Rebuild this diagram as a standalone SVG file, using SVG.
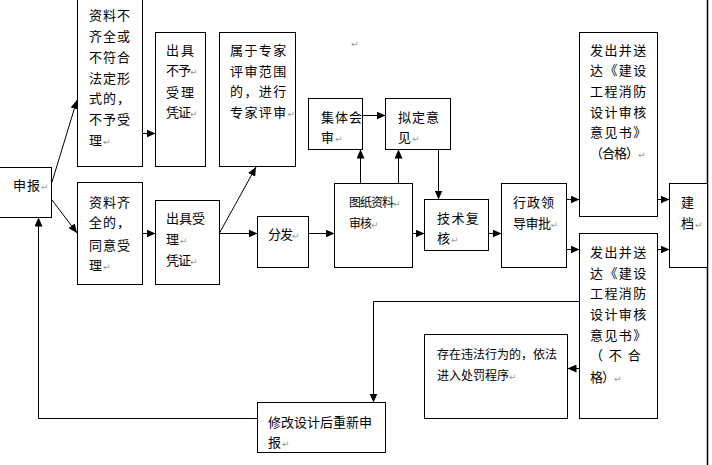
<svg xmlns="http://www.w3.org/2000/svg" width="712" height="465" viewBox="0 0 712 465">
<style>
.b{fill:#fff;stroke:#000;stroke-width:1}
.t{font-family:"Noto Sans CJK SC","Noto Sans CJK JP",sans-serif;font-size:13px;fill:#000;letter-spacing:1px}
.s{font-size:12px;letter-spacing:0}
.w{letter-spacing:1.4px}
.pm{font-family:"DejaVu Sans",sans-serif;font-size:9px;fill:#999;letter-spacing:0}
.c{fill:none;stroke:#000;stroke-width:1;marker-end:url(#a)}
.l{fill:none;stroke:#000;stroke-width:1}
</style>
<defs>
<marker id="a" markerUnits="userSpaceOnUse" markerWidth="9" markerHeight="8" refX="9" refY="4" orient="auto">
<path d="M0,0 L9,4 L0,8 z" fill="#000"/>
</marker>
</defs>
<rect x="0" y="0" width="712" height="465" fill="#fff"/>

<g id="connectors">
<line class="c" x1="52" y1="182" x2="77" y2="100"/>
<line class="c" x1="52" y1="200" x2="77" y2="233"/>
<line class="c" x1="142.5" y1="133.5" x2="155.5" y2="133.5"/>
<line class="c" x1="142.5" y1="233.5" x2="155.5" y2="233.5"/>
<line class="c" x1="219.5" y1="233" x2="256" y2="167"/>
<line class="c" x1="219.5" y1="233.5" x2="257.5" y2="233.5"/>
<line class="c" x1="308.5" y1="233.5" x2="334.5" y2="233.5"/>
<line class="c" x1="360.5" y1="183.5" x2="360.5" y2="149.5"/>
<line class="c" x1="398.5" y1="183.5" x2="398.5" y2="149.5"/>
<line class="c" x1="362.5" y1="115.5" x2="385.5" y2="115.5"/>
<line class="c" x1="438.5" y1="149.5" x2="438.5" y2="199.5"/>
<line class="c" x1="412.5" y1="233.5" x2="424.5" y2="233.5"/>
<line class="c" x1="488.5" y1="233.5" x2="501.5" y2="233.5"/>
<line class="c" x1="566.5" y1="199.5" x2="579.5" y2="199.5"/>
<line class="c" x1="566.5" y1="249.5" x2="579.5" y2="249.5"/>
<line class="c" x1="657.5" y1="199.5" x2="669.5" y2="199.5"/>
<line class="c" x1="657.5" y1="249.5" x2="669.5" y2="249.5"/>
<polyline class="c" points="579.5,301.5 373.5,301.5 373.5,402.5"/>
<line class="c" x1="579.5" y1="368.5" x2="567.5" y2="368.5"/>
<polyline class="c" points="257.5,418.5 38.5,418.5 38.5,217.5"/>
<line class="l" x1="707.5" y1="0" x2="707.5" y2="465" style="stroke-width:1.5"/>
</g>

<g id="n_shenbao">
<rect class="b" x="-1" y="167.5" width="52.5" height="50"/>
<text class="t" x="13" y="190">申报<tspan class="pm">↵</tspan></text>
</g>

<g id="n_buqi">
<rect class="b" x="77.5" y="-1" width="65" height="167.5"/>
<text class="t" x="89" y="20">资料不</text>
<text class="t" x="89" y="41">齐全或</text>
<text class="t" x="89" y="62">不符合</text>
<text class="t" x="89" y="83">法定形</text>
<text class="t" x="89" y="103">式的，</text>
<text class="t" x="89" y="124">不予受</text>
<text class="t" x="89" y="145">理<tspan class="pm">↵</tspan></text>
</g>

<g id="n_buyu">
<rect class="b" x="155.5" y="32.5" width="50" height="134"/>
<text class="t" x="166" y="55" style="letter-spacing:2px">出具</text>
<text class="t" x="166" y="75" style="letter-spacing:-1px">不予<tspan class="pm">↵</tspan></text>
<text class="t" x="166" y="97" style="letter-spacing:2px">受理</text>
<text class="t" x="166" y="117" style="letter-spacing:-1px">凭证<tspan class="pm">↵</tspan></text>
</g>

<g id="n_zhuanjia">
<rect class="b" x="219.5" y="32.5" width="76" height="134"/>
<text class="t w" x="230" y="55">属于专家</text>
<text class="t w" x="230" y="76">评审范围</text>
<text class="t w" x="230" y="96">的，进行</text>
<text class="t w" x="230" y="117">专家评审<tspan class="pm">↵</tspan></text>
</g>

<g id="n_qiquan">
<rect class="b" x="77.5" y="182.5" width="65" height="102"/>
<text class="t" x="89" y="207">资料齐</text>
<text class="t" x="89" y="227">全的，</text>
<text class="t" x="89" y="250">同意受</text>
<text class="t" x="89" y="270">理<tspan class="pm">↵</tspan></text>
</g>

<g id="n_shouli">
<rect class="b" x="155.5" y="200.5" width="64" height="84"/>
<text class="t" x="166" y="223" style="letter-spacing:0">出具受</text>
<text class="t" x="166" y="244">理<tspan class="pm">↵</tspan></text>
<text class="t" x="166" y="265" style="letter-spacing:-1px">凭证<tspan class="pm">↵</tspan></text>
</g>

<g id="n_fenfa">
<rect class="b" x="257.5" y="216.5" width="51" height="51"/>
<text class="t" x="268" y="239" style="letter-spacing:-1px">分发<tspan class="pm">↵</tspan></text>
</g>

<g id="n_jiti">
<rect class="b" x="308.5" y="98.5" width="54" height="51"/>
<text class="t" x="321" y="122">集体会</text>
<text class="t" x="321" y="142">审<tspan class="pm">↵</tspan></text>
</g>

<g id="n_niding">
<rect class="b" x="385.5" y="98.5" width="65" height="51"/>
<text class="t" x="398" y="122">拟定意</text>
<text class="t" x="398" y="142">见<tspan class="pm">↵</tspan></text>
</g>

<g id="n_tuzhi">
<rect class="b" x="334.5" y="183.5" width="78" height="84"/>
<text class="t s" x="349" y="207" style="letter-spacing:-1px">图纸资料<tspan class="pm">↵</tspan></text>
<text class="t s" x="349" y="228" style="letter-spacing:-1px">审核<tspan class="pm">↵</tspan></text>
</g>

<g id="n_jishu">
<rect class="b" x="424.5" y="199.5" width="64" height="51"/>
<text class="t w" x="437" y="223">技术复</text>
<text class="t" x="437" y="243">核<tspan class="pm">↵</tspan></text>
</g>

<g id="n_xingzheng">
<rect class="b" x="501.5" y="183.5" width="65" height="84"/>
<text class="t" x="513" y="207">行政领</text>
<text class="t" x="513" y="228" style="letter-spacing:-0.5px">导审批<tspan class="pm">↵</tspan></text>
</g>

<g id="n_hege">
<rect class="b" x="579.5" y="32.5" width="78" height="184"/>
<text class="t w" x="590" y="55">发出并送</text>
<text class="t w" x="590" y="75">达《建设</text>
<text class="t w" x="590" y="96">工程消防</text>
<text class="t w" x="590" y="117">设计审核</text>
<text class="t w" x="590" y="137">意见书》</text>
<text class="t" x="590" y="158" style="letter-spacing:-1px">（合格）<tspan class="pm">↵</tspan></text>
</g>

<g id="n_buhege">
<rect class="b" x="579.5" y="233.5" width="78" height="185"/>
<text class="t w" x="590" y="257">发出并送</text>
<text class="t w" x="590" y="278">达《建设</text>
<text class="t w" x="590" y="298">工程消防</text>
<text class="t w" x="590" y="319">设计审核</text>
<text class="t w" x="590" y="340">意见书》</text>
<text class="t" x="590" y="360" xml:space="preserve" style="letter-spacing:0">（  不  合</text>
<text class="t" x="590" y="382" style="letter-spacing:-1px">格）<tspan class="pm">↵</tspan></text>
</g>

<g id="n_jiandang">
<rect class="b" x="669.5" y="183.5" width="38" height="84"/>
<text class="t" x="681" y="207">建</text>
<text class="t" x="681" y="228">档<tspan class="pm">↵</tspan></text>
</g>

<g id="n_cunzai">
<rect class="b" x="424.5" y="334.5" width="143" height="84"/>
<text class="t s" x="437" y="359">存在违法行为的，依法</text>
<text class="t s" x="437" y="380">进入处罚程序<tspan class="pm">↵</tspan></text>
</g>

<g id="n_xiugai">
<rect class="b" x="257.5" y="402.5" width="128" height="50"/>
<text class="t" x="268" y="427" style="letter-spacing:0">修改设计后重新申</text>
<text class="t" x="268" y="447">报<tspan class="pm">↵</tspan></text>
</g>

<text class="pm" x="351" y="47">↵</text>
</svg>
